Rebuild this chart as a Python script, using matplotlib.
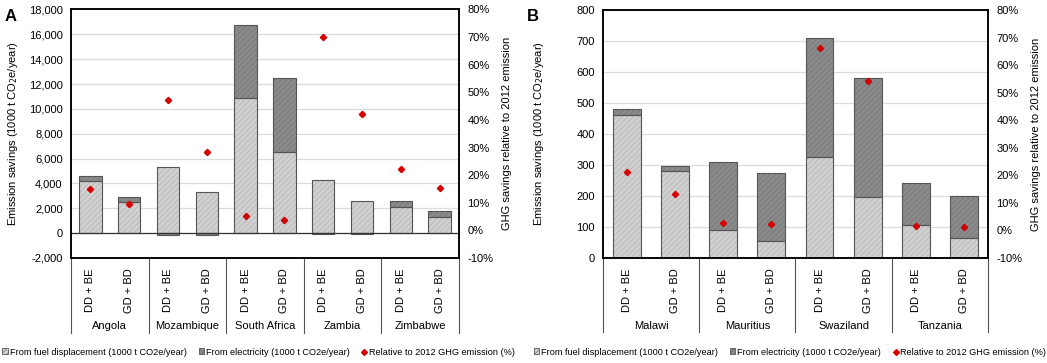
import numpy as np
import matplotlib
matplotlib.use('Agg')
import matplotlib.pyplot as plt
from matplotlib.ticker import FuncFormatter, PercentFormatter
from matplotlib.patches import Patch
from matplotlib.lines import Line2D

# Panel A data (1000 t CO2e/year, share of 2012 emission)
scenA = ['DD + BE', 'GD + BD'] * 5
countriesA = ['Angola', 'Mozambique', 'South Africa', 'Zambia', 'Zimbabwe']
fuelA = [4190, 2530, 5360, 3280, 10850, 6530, 4240, 2590, 2130, 1280]
elecA = [370, 350, -160, -150, 5930, 5970, -110, -110, 480, 500]
pctA = [0.151, 0.097, 0.473, 0.283, 0.051, 0.038, 0.700, 0.420, 0.223, 0.152]

# Panel B data
scenB = ['DD + BE', 'GD + BD'] * 4
countriesB = ['Malawi', 'Mauritius', 'Swaziland', 'Tanzania']
fuelB = [462, 281, 90, 55, 326, 197, 106, 64]
elecB = [17, 15, 219, 218, 384, 383, 136, 135]
pctB = [0.211, 0.131, 0.026, 0.024, 0.662, 0.541, 0.017, 0.012]

plt.rcParams['font.family'] = ['Liberation Sans', 'DejaVu Sans']
plt.rcParams['hatch.linewidth'] = 0.35
plt.rcParams['axes.unicode_minus'] = False

fuel_fc, fuel_hc = '#d0d0d0', '#a8a8a8'
elec_fc, elec_hc = '#8a8a8a', '#6e6e6e'
red = '#d40000'
fs = 8


def stacked(ax, fuel, elec):
    x = np.arange(len(fuel))
    fuel = np.array(fuel, float)
    elec = np.array(elec, float)
    w = 0.58
    # negative electricity stacks below zero
    ebottom = np.where(elec >= 0, fuel, 0)
    ax.bar(x, fuel, w, color=fuel_fc, edgecolor=fuel_hc, hatch='//////', linewidth=0, zorder=2)
    ax.bar(x, elec, w, bottom=ebottom, color=elec_fc, edgecolor=elec_hc, hatch='//////', linewidth=0, zorder=2)
    ax.bar(x, fuel, w, fill=False, edgecolor='#555555', linewidth=0.8, zorder=3)
    ax.bar(x, elec, w, bottom=ebottom, fill=False, edgecolor='#555555', linewidth=0.8, zorder=3)
    return x


def category_axis(ax, scen, countries, ext=-0.30):
    n = len(scen)
    trans = ax.get_xaxis_transform()
    for i, s in enumerate(scen):
        ax.text(i, -0.13, s, rotation=90, ha='center', va='center', fontsize=fs,
                transform=trans)
    for j, c in enumerate(countries):
        ax.text(2 * j + 0.5, -0.275, c, ha='center', va='center', fontsize=fs,
                transform=trans)
    for b in np.arange(0, n + 1, 2) - 0.5:
        ax.plot([b, b], [0, ext], color='#555555', lw=0.8, transform=trans, clip_on=False)


fig = plt.figure(figsize=(10.47, 3.63), dpi=100)

# ---------- Panel A ----------
axA = fig.add_axes([0.0678, 0.2893, 0.3706, 0.6846])
x = stacked(axA, fuelA, elecA)
axA.set_xlim(-0.5, len(fuelA) - 0.5)
axA.set_ylim(-2000, 18000)
axA.set_yticks(np.arange(-2000, 18001, 2000))
axA.yaxis.set_major_formatter(FuncFormatter(lambda v, p: '{:,.0f}'.format(v)))
axA.grid(axis='y', color='#dcdcdc', lw=0.9, zorder=0)
axA.axhline(0, color='#333333', lw=0.9, zorder=4)
axA.set_xticks([])
axA.tick_params(axis='y', length=0, labelsize=fs, pad=6)
axA.set_ylabel('Emission savings (1000 t CO$_2$e/year)', fontsize=fs, labelpad=6)
for sp in axA.spines.values():
    sp.set_linewidth(1.1)
category_axis(axA, scenA, countriesA)

axA2 = axA.twinx()
axA2.plot(x, pctA, 'D', color=red, ms=3.2, zorder=5)
axA2.set_ylim(-0.1, 0.8)
axA2.set_yticks(np.arange(-0.1, 0.81, 0.1))
axA2.yaxis.set_major_formatter(PercentFormatter(1.0, decimals=0))
axA2.tick_params(axis='y', length=0, labelsize=fs, pad=6)
axA2.set_ylabel('GHG savings relative to 2012 emission', fontsize=fs, labelpad=6)
for sp in axA2.spines.values():
    sp.set_linewidth(1.1)
fig.text(0.004, 0.975, 'A', fontsize=12, fontweight='bold', va='top')

# ---------- Panel B ----------
axB = fig.add_axes([0.5759, 0.2893, 0.3677, 0.6832])
x = stacked(axB, fuelB, elecB)
axB.set_xlim(-0.5, len(fuelB) - 0.5)
axB.set_ylim(0, 800)
axB.set_yticks(np.arange(0, 801, 100))
axB.grid(axis='y', color='#dcdcdc', lw=0.9, zorder=0)
axB.set_xticks([])
axB.tick_params(axis='y', length=0, labelsize=fs, pad=6)
axB.set_ylabel('Emission savings (1000 t CO$_2$e/year)', fontsize=fs, labelpad=22)
for sp in axB.spines.values():
    sp.set_linewidth(1.1)
category_axis(axB, scenB, countriesB)

axB2 = axB.twinx()
axB2.plot(x, pctB, 'D', color=red, ms=3.2, zorder=5)
axB2.set_ylim(-0.1, 0.8)
axB2.set_yticks(np.arange(-0.1, 0.81, 0.1))
axB2.yaxis.set_major_formatter(PercentFormatter(1.0, decimals=0))
axB2.tick_params(axis='y', length=0, labelsize=fs, pad=6)
axB2.set_ylabel('GHG savings relative to 2012 emission', fontsize=fs, labelpad=6)
for sp in axB2.spines.values():
    sp.set_linewidth(1.1)
fig.text(0.503, 0.975, 'B', fontsize=12, fontweight='bold', va='top')

# ---------- Legends ----------
labels = ['From fuel displacement (1000 t CO2e/year)',
          'From electricity (1000 t CO2e/year)',
          'Relative to 2012 GHG emission (%)']
handles = [Patch(facecolor=fuel_fc, edgecolor='#555555', hatch='//////', lw=0.6),
           Patch(facecolor=elec_fc, edgecolor='#555555', hatch='//////', lw=0.6),
           Line2D([], [], ls='', marker='D', color=red, ms=3)]
for cx in (0.247, 0.7545):
    fig.legend(handles, labels, loc='center', bbox_to_anchor=(cx, 0.03), ncol=3,
               frameon=False, fontsize=6.6, handlelength=0.6, handleheight=0.6,
               handletextpad=0.2, columnspacing=1.3)

fig.savefig('out.png', dpi=100)
